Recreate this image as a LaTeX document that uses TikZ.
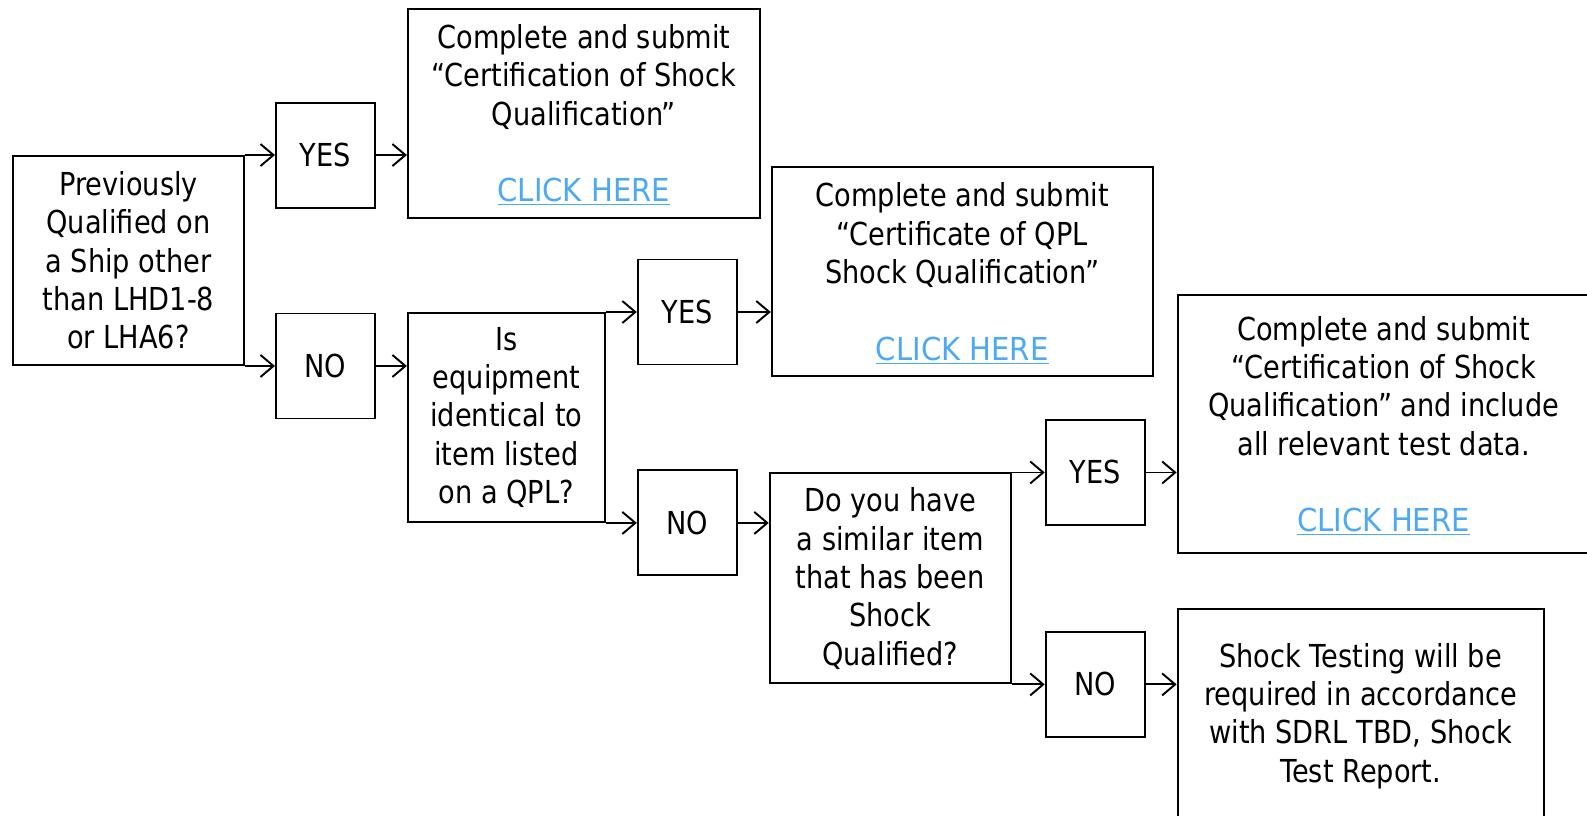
\documentclass[tikz,border=0pt]{standalone}
\usepackage{fontspec}
\setmainfont{DejaVu Sans}[FakeStretch=0.86]
\usetikzlibrary{arrows.meta, positioning}
\definecolor{linkblue}{RGB}{77,168,245}
\newcommand{\clickhere}{\smash{\scalebox{1.07}[1]{\textcolor{linkblue}{\underline{CLICK HERE}}}}}

\begin{document}
\begin{tikzpicture}[>={Straight Barb[length=0.26cm, width=0.44cm]},
  line width=1.1pt,
  every node/.style={draw, align=center, inner sep=2pt, font=\fontsize{18}{21.8}\selectfont},
  ans/.style={minimum width=1.98cm, minimum height=2.1cm}
 ]
 \useasboundingbox (0,0) rectangle (31.74,-16.3);
 \clip (0,0) rectangle (31.74,-16.3);

 \node[minimum width=4.62cm, minimum height=4.18cm] (Q1) at (2.57,-5.21) {Previously\\Qualified on\\a Ship other\\than LHD1-8\\or LHA6?};
 \node[ans, right=0.6cm of Q1.north east] (Y1) {YES};
 \node[ans, right=0.6cm of Q1.south east] (N1) {NO};
 \node[minimum width=7.04cm, minimum height=4.18cm, right=0.62cm of Y1, yshift=0.84cm] (C1) {Complete and submit\\“Certification of Shock\\Qualification”\\[\baselineskip]\clickhere};

 \node[minimum width=3.94cm, minimum height=4.18cm, right=0.62cm of N1, yshift=-1.03cm] (Q2) {Is\\equipment\\identical to\\item listed\\on a QPL?};
 \node[ans, right=0.62cm of Q2.north east] (Y2) {YES};
 \node[ans, right=0.62cm of Q2.south east] (N2) {NO};
 \node[minimum width=7.62cm, minimum height=4.18cm, right=0.66cm of Y2, yshift=0.81cm] (C2) {Complete and submit\\“Certificate of QPL\\Shock Qualification”\\[\baselineskip]\clickhere};

 \node[minimum width=4.82cm, minimum height=4.2cm, right=0.62cm of N2, yshift=-1.11cm] (Q3) {Do you have\\a similar item\\that has been\\Shock\\Qualified?};
 \node[ans, right=0.66cm of Q3.north east] (Y3) {YES};
 \node[ans, right=0.66cm of Q3.south east] (N3) {NO};
 \node[minimum width=8.24cm, minimum height=5.16cm, right=0.62cm of Y3, yshift=0.97cm] (C3) {Complete and submit\\“Certification of Shock\\Qualification” and include\\all relevant test data.\\[\baselineskip]\clickhere};
 \node[minimum width=7.32cm, minimum height=4.28cm, right=0.62cm of N3, yshift=-0.63cm] (F) {Shock Testing will be\\required in accordance\\with SDRL TBD, Shock\\Test Report.};

 \draw [->] (Q1.north east) -- (Y1.west);
 \draw [->] (Q1.south east) -- (N1.west);
 \draw [->] (Y1.east) -- (Y1.east -| C1.west);
 \draw [->] (N1.east) -- (N1.east -| Q2.west);

 \draw [->] (Q2.north east) -- (Y2.west);
 \draw [->] (Q2.south east) -- (N2.west);
 \draw [->] (Y2.east) -- (Y2.east -| C2.west);
 \draw [->] (N2.east) -- (N2.east -| Q3.west);

 \draw [->] (Q3.north east) -- (Y3.west);
 \draw [->] (Q3.south east) -- (N3.west);
 \draw [->] (Y3.east) -- (Y3.east -| C3.west);
 \draw [->] (N3.east) -- (N3.east -| F.west);
\end{tikzpicture}
\end{document}
